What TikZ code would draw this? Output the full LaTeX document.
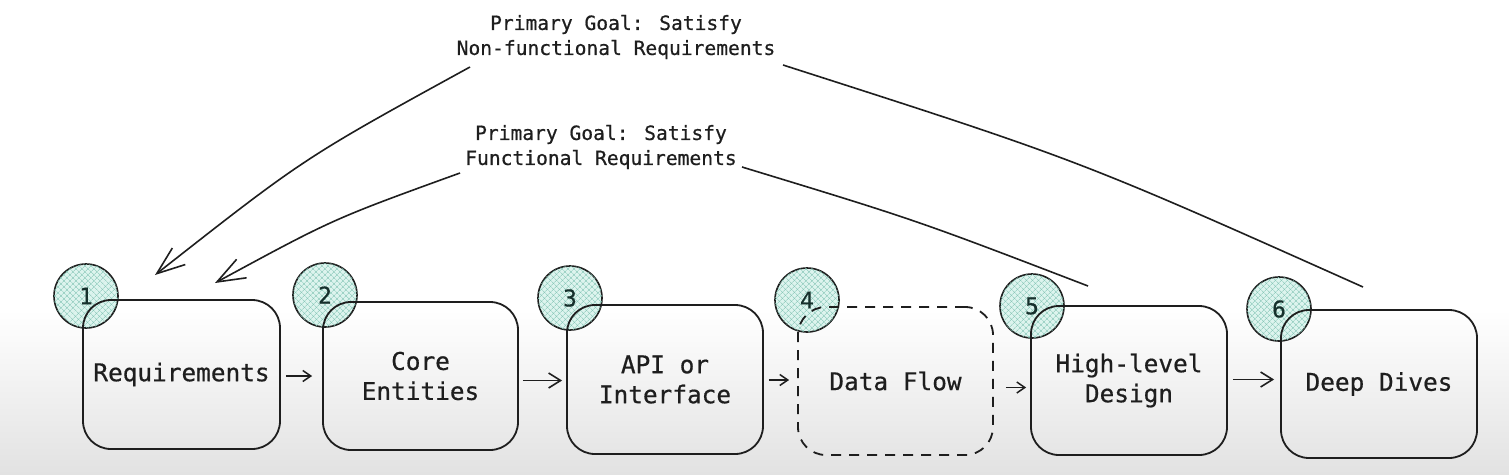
\documentclass[tikz,border=0pt]{standalone}
\usepackage{fontspec}
\setmonofont{DejaVu Sans Mono}
\newfontfamily\handfont{DejaVu Sans Mono}[FakeBold=0.6]
\usetikzlibrary{arrows.meta,patterns.meta}
\definecolor{ink}{HTML}{1E1E1E}
\definecolor{tealfill}{HTML}{DDF4EE}
\definecolor{tealhatch}{HTML}{82C4B4}
\definecolor{numcol}{HTML}{16302C}
\definecolor{bggray}{HTML}{E2E2E2}
\tikzset{
  stepbox/.style={draw=ink, line width=1.8pt, rounded corners=28pt, align=center,
    font=\handfont\fontsize{24.4}{30}\selectfont, text=ink, inner sep=0pt},
  dashbox/.style={stepbox, dash pattern=on 10pt off 8pt},
  numcirc/.style={circle, draw=ink, line width=1.6pt, minimum size=64pt, inner sep=0pt,
    fill=tealfill, text=numcol, font=\handfont\fontsize{23}{23}\selectfont,
    postaction={pattern={Lines[angle=45,distance=4pt,line width=0.6pt]}, pattern color=tealhatch},
    postaction={pattern={Lines[angle=-45,distance=4pt,line width=0.6pt]}, pattern color=tealhatch}},
  goal/.style={align=center, font=\handfont\fontsize{19.6}{25}\selectfont, text=ink, inner sep=0pt},
  smallarr/.style={draw=ink, line width=1.5pt, -{Straight Barb[length=8pt,width=11pt]}},
  bigarr/.style={draw=ink, line width=1.6pt, -{Straight Barb[length=12pt,width=15pt]}},
  goalarr/.style={draw=ink, line width=1.6pt, -{Straight Barb[length=28pt,width=21pt]}},
  goalline/.style={draw=ink, line width=1.6pt},
}
\begin{document}
\begin{tikzpicture}[x=1pt,y=-1pt]
\useasboundingbox (0,0) rectangle (1509,474);
\fill[white] (0,0) rectangle (1509,310);
\shade[top color=white, bottom color=bggray] (0,310) rectangle (1509,474);

% number circles (drawn first, boxes on top)
\node[numcirc] (c1) at (86,296) {1};
\node[numcirc] (c2) at (325,295) {2};
\node[numcirc] (c3) at (570,298) {3};
\node[numcirc] (c4) at (807,300) {4};
\node[numcirc] (c5) at (1032,306) {5};
\node[numcirc] (c6) at (1279,309) {6};

% step boxes
\node[stepbox, minimum width=197pt, minimum height=149pt] (b1) at (181.5,374.5) {Requirements};
\node[stepbox, minimum width=195pt, minimum height=148pt] (b2) at (420.5,376) {Core\\Entities};
\node[stepbox, minimum width=196pt, minimum height=149pt] (b3) at (665,379.5) {API or\\Interface};
\node[dashbox, minimum width=195pt, minimum height=148pt] (b4) at (895.5,381) {Data Flow};
\node[stepbox, minimum width=196pt, minimum height=149pt] (b5) at (1129,380.5) {High-level\\Design};
\node[stepbox, minimum width=196pt, minimum height=148pt] (b6) at (1379,384) {Deep Dives};

% arrows between steps
\draw[smallarr, shorten <=5pt, shorten >=10pt] ([yshift=-1.5pt]b1.east) -- ([yshift=-1.5pt]b1.east -| b2.west);
\draw[bigarr, shorten <=4pt, shorten >=4pt] ([yshift=-4.5pt]b2.east) -- ([yshift=-4.5pt]b2.east -| b3.west);
\draw[smallarr, shorten <=5pt, shorten >=8pt] ([yshift=-0.5pt]b3.east) -- ([yshift=-0.5pt]b3.east -| b4.west);
\draw[smallarr, shorten <=12pt, shorten >=4pt] ([yshift=-6.5pt]b4.east) -- ([yshift=-6.5pt]b4.east -| b5.west);
\draw[bigarr, shorten <=5pt, shorten >=6pt] ([yshift=1pt]b5.east) -- ([yshift=1pt]b5.east -| b6.west);

% goal labels
\node[goal] (nfl) at (616,37) {Primary Goal: Satisfy\\Non-functional Requirements};
\node[goal] (fl) at (601,147) {Primary Goal: Satisfy\\Functional Requirements};

% goal connectors
\coordinate (nfTail) at (1363,287);
\coordinate (nfA) at (783,65);
\coordinate (nfB) at (470,67);
\coordinate (nfTip) at (155,275);
\coordinate (fTail) at (1088,286);
\coordinate (fA) at (742,167);
\coordinate (fB) at (460,173);
\coordinate (fTip) at (215,283);

\draw[goalline] (nfTail) .. controls (1079,160) .. (nfA);
\draw[goalarr] (nfB) .. controls (304,158) .. (nfTip);
\draw[goalline] (fTail) .. controls (916,220) .. (fA);
\draw[goalarr] (fB) .. controls (333,219) .. (fTip);
\end{tikzpicture}
\end{document}
